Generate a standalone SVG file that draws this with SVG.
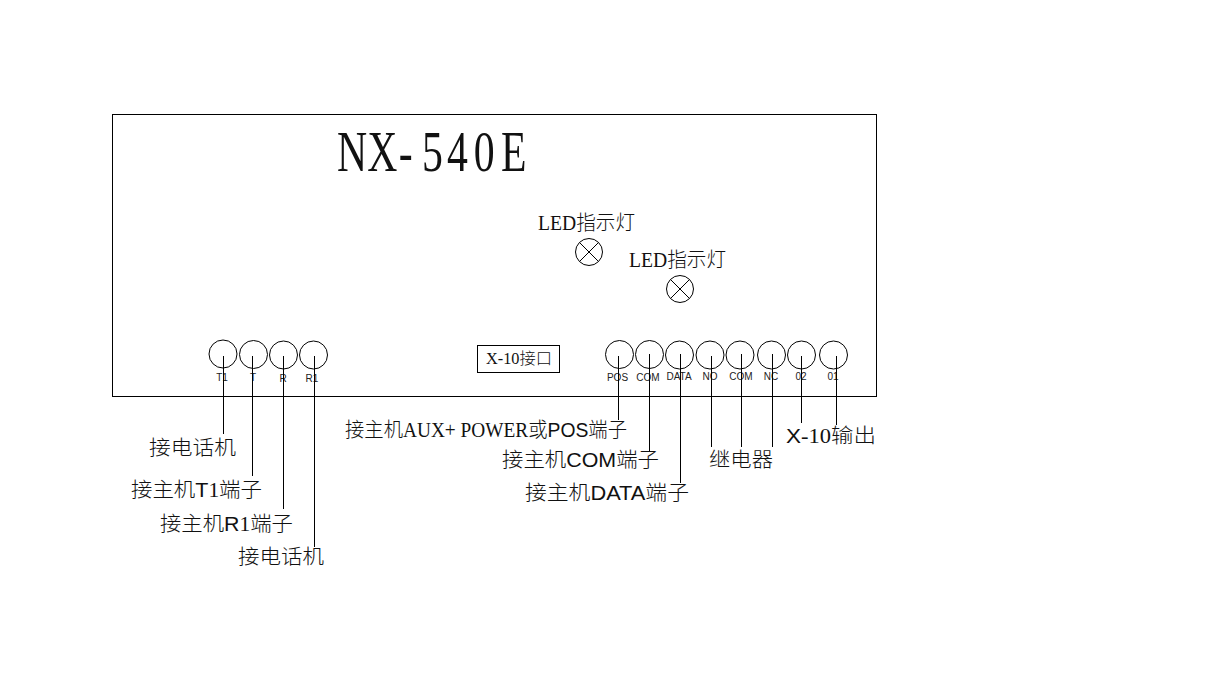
<svg xmlns="http://www.w3.org/2000/svg" width="1209" height="682" viewBox="0 0 1209 682">
<style>
.l{stroke:#000;stroke-width:1;fill:none}
.c{stroke:#000;stroke-width:1;fill:none}
.t{font-family:"Noto Sans CJK SC","Liberation Sans",sans-serif;font-size:20px;fill:#111;font-weight:300}
.s{font-family:"Liberation Sans",sans-serif;font-size:10px;fill:#222;text-anchor:middle}
.m{font-family:"Liberation Serif","Noto Sans CJK SC",serif}
.a{font-family:"Liberation Sans","Noto Sans CJK SC",sans-serif}
</style>
<rect width="1209" height="682" fill="#fff"/>
<g id="panel">
<rect class="l" x="112.500" y="114.500" width="764" height="282"/>
<text transform="translate(0,171) scale(.72,1)" x="468 510 554 586 621 658 696" y="0" font-family="Liberation Serif,serif" font-size="58" fill="#111">NX-540E</text>
</g>
<g id="led1"><circle class="c" cx="589" cy="252" r="13.500"/><path class="l" d="M579.500 242.500L598.500 261.500M598.500 242.500L579.500 261.500"/>
<text class="t" x="538" y="230" textLength="97" lengthAdjust="spacingAndGlyphs"><tspan class="m">LED</tspan>指示灯</text></g>
<g id="led2"><circle class="c" cx="680" cy="289" r="13.500"/><path class="l" d="M670.500 279.500L689.500 298.500M689.500 279.500L670.500 298.500"/>
<text class="t" x="629" y="267" textLength="97" lengthAdjust="spacingAndGlyphs"><tspan class="m">LED</tspan>指示灯</text></g>
<g id="x10"><rect class="l" x="477.500" y="345.500" width="82" height="27"/>
<text class="t" x="486" y="364" style="font-size:16px" textLength="66" lengthAdjust="spacingAndGlyphs"><tspan class="m">X-10</tspan>接口</text></g>
<g id="t1"><circle class="c" cx="223" cy="354" r="14"/><text class="s" x="222" y="381">T1</text></g>
<g id="t"><circle class="c" cx="253.500" cy="354.500" r="14"/><text class="s" x="253" y="381">T</text></g>
<g id="r"><circle class="c" cx="283.500" cy="355" r="14"/><text class="s" x="283" y="382">R</text></g>
<g id="r1"><circle class="c" cx="313.500" cy="355" r="14"/><text class="s" x="312" y="382">R1</text></g>
<g id="pos"><circle class="c" cx="619.500" cy="354.500" r="14"/><text class="s" x="617.500" y="381">POS</text></g>
<g id="com1"><circle class="c" cx="649.500" cy="354.500" r="14"/><text class="s" x="648" y="381">COM</text></g>
<g id="data"><circle class="c" cx="679.500" cy="355" r="14"/><text class="s" x="679" y="380">DATA</text></g>
<g id="no"><circle class="c" cx="710" cy="355" r="14"/><text class="s" x="710" y="380">NO</text></g>
<g id="com2"><circle class="c" cx="740" cy="355" r="14"/><text class="s" x="741" y="380">COM</text></g>
<g id="nc"><circle class="c" cx="771.500" cy="355" r="14"/><text class="s" x="771" y="380">NC</text></g>
<g id="o2"><circle class="c" cx="801.500" cy="355" r="14"/><text class="s" x="801" y="380">02</text></g>
<g id="o1"><circle class="c" cx="833.500" cy="355" r="14"/><text class="s" x="833" y="380">01</text></g>
<g id="connectors" class="l">
<path class="l" d="M223.500 356V434M252.500 356V476M283.500 356V509M314.500 356V547M618.500 356V420M649.500 354V451M680.500 354V483M711.500 356V447M741.500 354V447M772.500 354V447M801.500 356V423M836.500 356V425"/>
</g>
<g id="labels">
<text class="t" x="149" y="455" textLength="87" lengthAdjust="spacingAndGlyphs">接电话机</text>
<text class="t" x="131" y="497" textLength="131" lengthAdjust="spacingAndGlyphs">接主机<tspan class="a">T</tspan><tspan class="m">1</tspan>端子</text>
<text class="t" x="160" y="531" textLength="133" lengthAdjust="spacingAndGlyphs">接主机<tspan class="a">R</tspan><tspan class="m">1</tspan>端子</text>
<text class="t" x="238" y="564" textLength="86" lengthAdjust="spacingAndGlyphs">接电话机</text>
<text class="t" x="345" y="437" textLength="282" lengthAdjust="spacingAndGlyphs">接主机<tspan class="m">AUX+ POWER</tspan>或<tspan class="a">POS</tspan>端子</text>
<text class="t" x="502" y="467" textLength="157" lengthAdjust="spacingAndGlyphs">接主机<tspan class="a">COM</tspan>端子</text>
<text class="t" x="525" y="500" textLength="164" lengthAdjust="spacingAndGlyphs">接主机<tspan class="a">DATA</tspan>端子</text>
<text class="t" x="709" y="467" textLength="64" lengthAdjust="spacingAndGlyphs">继电器</text>
<text class="t" x="786" y="443" textLength="90" lengthAdjust="spacingAndGlyphs"><tspan class="a">X</tspan><tspan class="m">-10</tspan>输出</text>
</g>
</svg>
